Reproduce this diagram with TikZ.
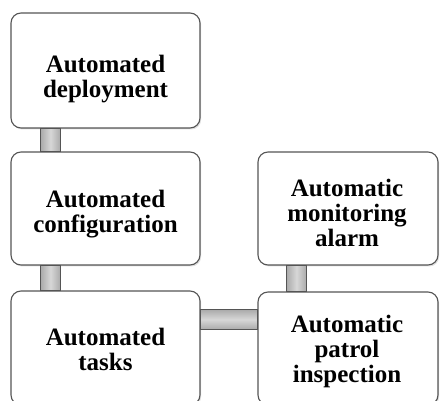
\documentclass[tikz,border=0pt]{standalone}
\usepackage{fontspec}
\setmainfont{Liberation Serif}
\usetikzlibrary{calc,shadows}
\definecolor{edgegray}{RGB}{85,85,85}
\definecolor{connlight}{RGB}{215,215,215}
\definecolor{conndark}{RGB}{170,170,170}
\tikzset{
  box/.style={draw=edgegray, line width=1.1pt, rounded corners=10pt, fill=white,
    drop shadow={shadow xshift=1.2pt, shadow yshift=-1.5pt, opacity=0.25, fill=gray},
    inner sep=0pt},
  lbl/.style={anchor=north, align=center, inner sep=0pt,
    font=\fontsize{25}{25}\selectfont\bfseries},
  vconn/.style={draw=edgegray, line width=0.8pt, left color=conndark, right color=conndark, middle color=connlight},
  hconn/.style={draw=edgegray, line width=0.8pt, top color=conndark, bottom color=conndark, middle color=connlight}
}
\begin{document}
\begin{tikzpicture}[x=1pt,y=-1pt]
\useasboundingbox (0,0) rectangle (440,401);
\clip (0,0) rectangle (440,401);
% boxes
\node[box, minimum width=189pt, minimum height=115pt] (d1) at (105.5,70.5) {};
\node[box, minimum width=189pt, minimum height=113pt] (d2) at (105.5,208.5) {};
\node[box, minimum width=189pt, minimum height=114pt] (d3) at (105.5,348) {};
\node[box, minimum width=180pt, minimum height=113pt] (m1) at (348,208.5) {};
\node[box, minimum width=180pt, minimum height=113pt] (m2) at (348,348.5) {};
% labels
\node[lbl] (t1) at (105.5,54.8) {Automated\\deployment};
\node[lbl] (t2) at (105.5,189.8) {Automated\\configuration};
\node[lbl] (t3) at (105.5,328.1) {Automated\\tasks};
\node[lbl] (t4) at (347,179.1) {Automatic\\monitoring\\alarm};
\node[lbl] (t5) at (347,314.8) {Automatic\\patrol\\inspection};
% connectors
\path[vconn] ($(d1.south west)+(30,0)$) rectangle ($(d2.north west)+(50,0)$);
\path[vconn] ($(d2.south west)+(30,0)$) rectangle ($(d3.north west)+(50,0)$);
\path[vconn] ($(m1.south west)+(29,0)$) rectangle ($(m2.north west)+(49,0)$);
\path[hconn] ($(d3.north east)+(0,19)$) rectangle ($(m2.north west)+(0,38)$);
\end{tikzpicture}
\end{document}
